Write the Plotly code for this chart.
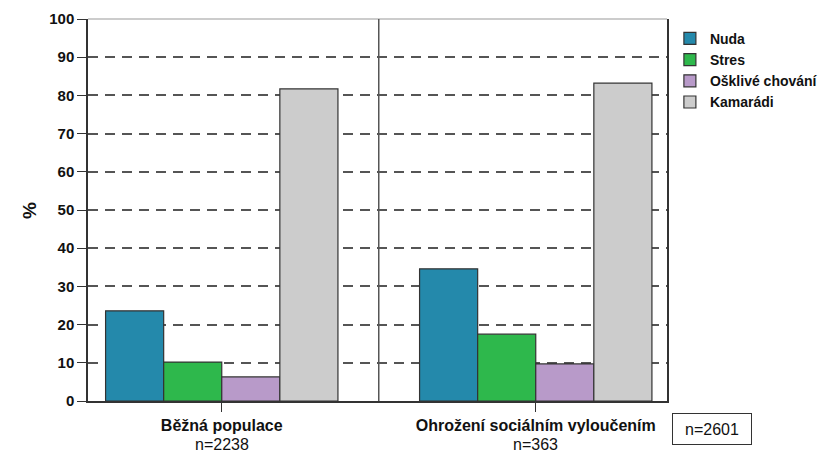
import plotly.graph_objects as go

groups = ["Běžná populace", "Ohrožení sociálním vyloučením"]
group_n = ["n=2238", "n=363"]
series = ["Nuda", "Stres", "Ošklivé chování", "Kamarádi"]
nuda = [23.6, 34.6]
stres = [10.2, 17.5]
osklive = [6.3, 9.7]
kamaradi = [81.7, 83.2]
total_n = "n=2601"
y_ticks = [0, 10, 20, 30, 40, 50, 60, 70, 80, 90, 100]

values = [nuda, stres, osklive, kamaradi]
colors = ["#2489ab", "#2eb84c", "#b89ac9", "#cccccc"]

FONT = "Liberation Sans, Arial, sans-serif"

fig = go.Figure()
for name, vals, col in zip(series, values, colors):
    fig.add_trace(go.Bar(
        x=groups, y=vals, name=name,
        marker=dict(color=col, line=dict(color="#333333", width=1.2)),
    ))

ticktext = [f"<b>{g}</b>" for g in groups]

annotations = [
    dict(text="<b>%</b>", xref="paper", yref="paper", x=-0.102, y=0.5,
         xanchor="center", yanchor="middle",
         textangle=-90, showarrow=False,
         font=dict(family=FONT, size=19, color="#111111")),
    dict(text=total_n, xref="paper", yref="paper", x=1.0777, y=-0.0733,
         xanchor="center", yanchor="middle",
         showarrow=False, bordercolor="#333333", borderwidth=1,
         width=76, height=28, borderpad=1,
         font=dict(family=FONT, size=16, color="#111111")),
]
for g, n in zip(groups, group_n):
    annotations.append(dict(
        text=n, xref="x", yref="paper", x=g, y=-0.113,
        xanchor="center", yanchor="middle", showarrow=False,
        font=dict(family=FONT, size=16, color="#111111"),
    ))

fig.update_layout(
    width=823, height=445,
    margin=dict(l=80, r=164, t=11, b=52, autoexpand=False),
    paper_bgcolor="white", plot_bgcolor="white",
    barmode="group", bargap=0.26, bargroupgap=0,
    font=dict(family=FONT, size=15, color="#111111"),
    showlegend=True,
    legend=dict(
        x=1.005, y=0.99, xanchor="left", yanchor="top",
        font=dict(family=FONT, size=14, color="#111111", weight="bold"),
        traceorder="normal", itemwidth=30, tracegroupgap=0,
        bgcolor="rgba(0,0,0,0)",
    ),
    xaxis=dict(
        type="category", range=[-0.426, 1.418], automargin=False,
        tickvals=groups, ticktext=ticktext,
        ticks="outside", ticklen=9, tickcolor="#333333", tickwidth=1,
        showline=True, linecolor="#333333", linewidth=1.5,
        showgrid=False,
        tickfont=dict(family=FONT, size=16, color="#111111"),
    ),
    yaxis=dict(
        range=[0, 100], tickvals=y_ticks, automargin=False,
        ticks="outside", ticklen=9, tickcolor="#333333", tickwidth=1,
        showline=True, linecolor="#333333", linewidth=1.5, mirror=True,
        showgrid=True, gridcolor="#555555", gridwidth=1.5, griddash="10px,7px",
        zeroline=False,
        tickfont=dict(family=FONT, size=15, color="#111111", weight="bold"),
    ),
    shapes=[
        dict(type="line", xref="paper", yref="paper", x0=0, x1=1, y0=1, y1=1,
             line=dict(color="#bbbbbb", width=1.5), layer="below"),
        dict(type="line", xref="x", yref="y", x0=0.5, x1=0.5,
             ysizemode="pixel", yanchor=0, y0=-6, y1=382,
             line=dict(color="#555555", width=1.5)),
    ],
    annotations=annotations,
)

fig.write_html("out.html")
